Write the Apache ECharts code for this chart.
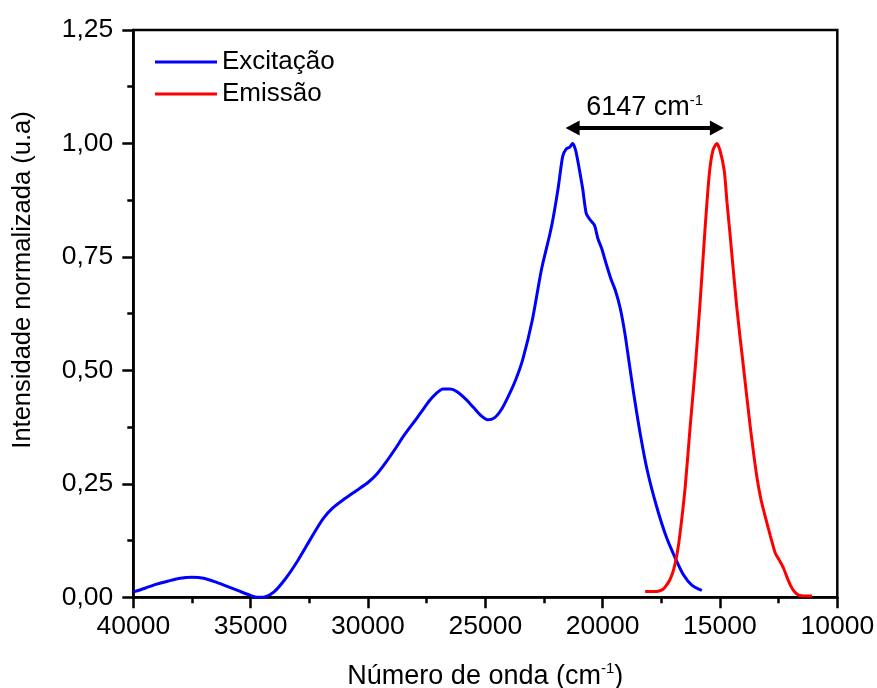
<!DOCTYPE html>
<html>
<head>
<meta charset="utf-8">
<script src="https://cdn.jsdelivr.net/npm/echarts@6/dist/echarts.min.js"></script>
<style>
  html, body { margin: 0; padding: 0; background: #fff; }
  #chart { width: 877px; height: 688px; }
</style>
</head>
<body>
<div id="chart"></div>
<script>
// Wavenumbers (cm-1) and normalised intensities of the excitation spectrum
const excWavenumber = [
  40000, 39500, 39000, 38500, 38000, 37500, 37000, 36500, 36000, 35500,
  35000, 34700, 34400, 34000, 33500, 33000, 32600, 32200, 31900, 31500,
  31000, 30500, 30000, 29600, 29200, 28800, 28500, 28000, 27700, 27400,
  27100, 26800, 26500, 26200, 25800, 25500, 25200, 24900, 24600, 24300,
  24000, 23700, 23400, 23000, 22600, 22250, 22100, 21900, 21700, 21550,
  21400, 21280, 21150, 21000, 20850, 20700, 20550, 20350, 20200, 20050,
  19850, 19650, 19450, 19250, 19050, 18850, 18700, 18400, 18100, 17700,
  17300, 16900, 16550, 16200, 15771
];
const excIntensity = [
  0.012, 0.020, 0.029, 0.036, 0.042, 0.044, 0.042, 0.034, 0.024, 0.014,
  0.004, 0.000, 0.001, 0.012, 0.042, 0.080, 0.115, 0.150, 0.174, 0.197,
  0.217, 0.235, 0.253, 0.273, 0.300, 0.330, 0.354, 0.389, 0.410, 0.432,
  0.449, 0.459, 0.459, 0.453, 0.435, 0.418, 0.401, 0.391, 0.396, 0.415,
  0.445, 0.480, 0.525, 0.610, 0.724, 0.800, 0.838, 0.900, 0.972, 0.988,
  0.992, 1.000, 0.985, 0.945, 0.900, 0.846, 0.833, 0.820, 0.790, 0.770,
  0.735, 0.702, 0.675, 0.637, 0.581, 0.510, 0.457, 0.361, 0.280, 0.200,
  0.135, 0.086, 0.049, 0.027, 0.015
];

// Emission spectrum
const emWavenumber = [
  18187, 17700, 17450, 17330, 17150, 16980, 16830, 16700, 16480, 16270,
  16050, 15840, 15630, 15450, 15300, 15133, 15000, 14820, 14700, 14560,
  14280, 14000, 13710, 13430, 13250, 13070, 12850, 12640, 12450, 12290,
  12150, 12000, 11850, 11650, 11400, 11080
];
const emIntensity = [
  0.013, 0.013, 0.017, 0.023, 0.037, 0.060, 0.095, 0.141, 0.244, 0.376,
  0.508, 0.655, 0.816, 0.935, 0.985, 1.000, 0.985, 0.941, 0.870, 0.794,
  0.637, 0.508, 0.376, 0.266, 0.215, 0.178, 0.135, 0.097, 0.080, 0.064,
  0.045, 0.027, 0.014, 0.005, 0.003, 0.003
];

const seriesNames = ['Excitação', 'Emissão'];
const stokesShift = 6147;          // cm-1, peak-to-peak separation
const excPeak = 21280;             // excitation maximum
const shiftArrowLevel = 1.034;     // height of the double arrow

const pairs = (xs, ys) => xs.map((x, i) => [x, ys[i]]);
const FONT = '"Liberation Sans", Arial, sans-serif';

const chart = echarts.init(document.getElementById('chart'), null, { renderer: 'canvas' });

chart.setOption({
  animation: false,
  backgroundColor: '#ffffff',
  textStyle: { fontFamily: FONT, color: '#000' },
  grid: {
    left: 133.3, right: 39.7, top: 30, bottom: 90.7,
    outerBoundsMode: 'none',
    containLabel: false,
    show: true, borderColor: '#000', borderWidth: 2.5, backgroundColor: 'transparent'
  },
  legend: {
    orient: 'vertical',
    left: 150, top: 42,
    itemWidth: 62, itemHeight: 3, itemGap: 2,
    icon: 'rect',
    textStyle: { fontFamily: FONT, fontSize: 26, color: '#000', lineHeight: 30 },
    data: seriesNames
  },
  xAxis: {
    type: 'value',
    inverse: true,
    min: 10000, max: 40000, interval: 5000,
    name: '{n|Número de onda (cm}{s|-1}{n|)}',
    nameLocation: 'middle',
    nameGap: 64,
    nameTextStyle: {
      rich: {
        n: { fontFamily: FONT, fontSize: 27, color: '#000', lineHeight: 30 },
        s: { fontFamily: FONT, fontSize: 15, color: '#000', verticalAlign: 'top', lineHeight: 14 }
      }
    },
    axisLine: { onZero: false, lineStyle: { color: '#000', width: 2.5 } },
    axisTick: { inside: false, length: 11, lineStyle: { color: '#000', width: 2.5 } },
    minorTick: { show: true, splitNumber: 2, length: 6, lineStyle: { color: '#000', width: 2.5 } },
    splitLine: { show: false },
    axisLabel: {
      margin: 16, fontFamily: FONT, fontSize: 26.5, color: '#000',
      formatter: v => String(v)
    }
  },
  yAxis: {
    type: 'value',
    min: 0, max: 1.25, interval: 0.25,
    axisLine: { onZero: false, lineStyle: { color: '#000', width: 2.5 } },
    axisTick: { inside: false, length: 11, lineStyle: { color: '#000', width: 2.5 } },
    minorTick: { show: true, splitNumber: 2, length: 6, lineStyle: { color: '#000', width: 2.5 } },
    splitLine: { show: false },
    axisLabel: {
      margin: 20, fontFamily: FONT, fontSize: 26.5, color: '#000',
      formatter: v => v.toFixed(2).replace('.', ',')
    }
  },
  graphic: [{
    type: 'text',
    x: 23, y: 280,
    rotation: Math.PI / 2,
    style: {
      text: 'Intensidade normalizada (u.a)',
      fontFamily: FONT, fontSize: 25.5, fill: '#000',
      textAlign: 'center', textVerticalAlign: 'middle'
    }
  }],
  series: [
    {
      name: seriesNames[0],
      type: 'line',
      data: pairs(excWavenumber, excIntensity),
      smooth: 0.25,
      symbol: 'none',
      color: '#0000ff',
      lineStyle: { color: '#0000ff', width: 3 },
      z: 3
    },
    {
      name: seriesNames[1],
      type: 'line',
      data: pairs(emWavenumber, emIntensity),
      smooth: 0.25,
      symbol: 'none',
      color: '#ff0000',
      lineStyle: { color: '#ff0000', width: 3 },
      z: 3,
      markLine: {
        silent: true,
        symbol: ['triangle', 'triangle'],
        symbolSize: [15, 14],
        lineStyle: { color: '#000', width: 4, type: 'solid' },
        itemStyle: { color: '#000' },
        label: {
          show: true,
          position: 'insideMiddleTop',
          distance: 5,
          formatter: '{n|' + stokesShift + ' cm}{s|-1}',
          rich: {
            n: { fontFamily: FONT, fontSize: 27, color: '#000', lineHeight: 30 },
            s: { fontFamily: FONT, fontSize: 15, color: '#000', verticalAlign: 'top', lineHeight: 14 }
          }
        },
        data: [[
          { coord: [excPeak, shiftArrowLevel] },
          { coord: [excPeak - stokesShift, shiftArrowLevel] }
        ]]
      }
    }
  ]
});
</script>
</body>
</html>
